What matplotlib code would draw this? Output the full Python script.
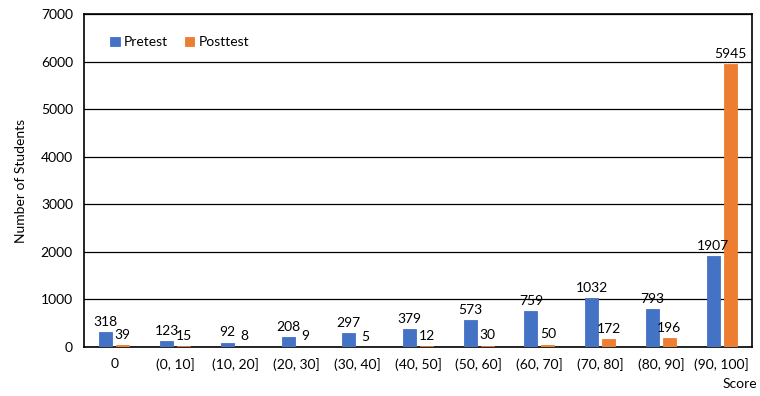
import matplotlib
matplotlib.use("Agg")
import matplotlib.pyplot as plt
import numpy as np

categories = ["0", "(0, 10]", "(10, 20]", "(20, 30]", "(30, 40]", "(40, 50]",
              "(50, 60]", "(60, 70]", "(70, 80]", "(80, 90]", "(90, 100]"]
pretest = [318, 123, 92, 208, 297, 379, 573, 759, 1032, 793, 1907]
posttest = [39, 15, 8, 9, 5, 12, 30, 50, 172, 196, 5945]
yticks = [0, 1000, 2000, 3000, 4000, 5000, 6000, 7000]

plt.rcParams['font.family'] = ['Lato', 'DejaVu Sans']

fig = plt.figure(figsize=(7.6, 3.96), dpi=100)
ax = fig.add_axes([84/760, 1-347/396, (752-84)/760, (347-14)/396])

x = np.arange(len(categories))
w = 0.215
off = 0.14
blue = "#4472C4"
orange = "#ED7D31"
b1 = ax.bar(x - off, pretest, w, color=blue, edgecolor=blue, linewidth=0.6, label="Pretest", zorder=3)
b2 = ax.bar(x + off, posttest, w, color=orange, edgecolor=orange, linewidth=0.6, label="Posttest", zorder=3)

ax.bar_label(b1, labels=[str(v) for v in pretest], padding=3, fontsize=10, color="#000000")
ax.bar_label(b2, labels=[str(v) for v in posttest], padding=3, fontsize=10, color="#000000")

ax.set_xlim(-0.5, len(categories) - 0.5)
ax.set_ylim(0, 7000)
ax.set_yticks(yticks)
ax.set_yticklabels([str(t) for t in yticks], fontsize=10)
ax.set_xticks(x)
ax.set_xticklabels(categories, fontsize=10)
ax.tick_params(axis='both', length=0, pad=8)
ax.yaxis.grid(True, color="#000000", linewidth=0.9, zorder=0)
ax.set_axisbelow(True)
for s in ax.spines.values():
    s.set_color("#000000")
    s.set_linewidth(1.2)

ax.set_ylabel("Number of Students", fontsize=10, labelpad=10)
fig.text(740/760, 1-384/396, "Score", fontsize=10, ha="center", va="center")

leg = ax.legend(loc="upper left", bbox_to_anchor=(0.02, 0.97), ncol=2, frameon=False,
                fontsize=10, handlelength=0.7, handleheight=0.7, handletextpad=0.3,
                columnspacing=1.2)

fig.savefig("out.png", dpi=100)
